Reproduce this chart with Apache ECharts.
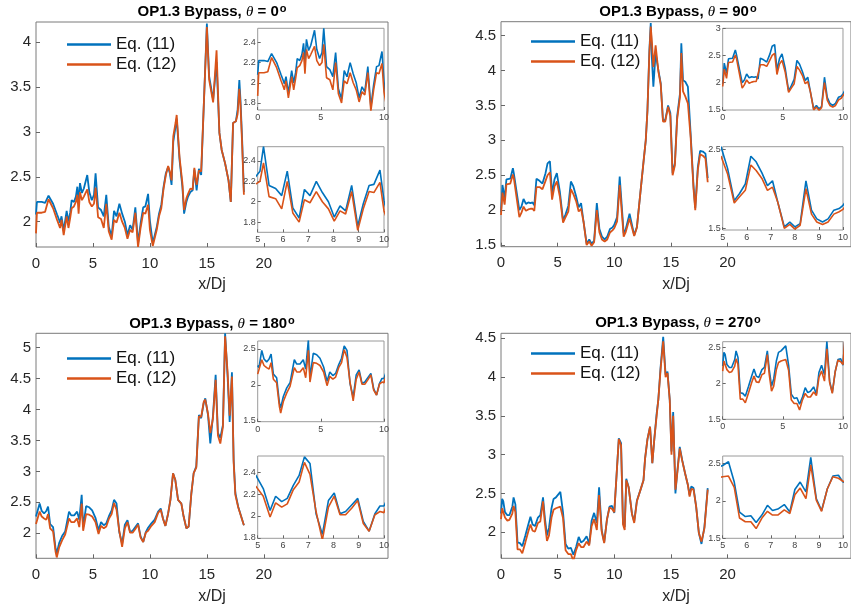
<!DOCTYPE html>
<html><head><meta charset="utf-8">
<script src="https://cdn.jsdelivr.net/npm/echarts@6/dist/echarts.min.js"></script>
<style>html,body{margin:0;padding:0;background:#fff}#c{width:851px;height:611px}</style>
</head><body><div id="c"></div>
<script>
// ---------- DATA ----------
const ANGLES = ['0', '90', '180', '270'];
const SERIES_NAMES = ['Eq. (11)', 'Eq. (12)'];

// theta = 0
const X1 = [0.00,0.08,0.50,0.80,1.10,1.50,1.85,2.00,2.11,2.24,2.43,2.69,2.85,3.00,3.13,3.33,3.50,3.63,3.74,3.86,4.03,4.20,4.50,4.68,4.90,5.09,5.23,5.45,5.71,5.95,6.17,6.39,6.64,6.85,7.07,7.32,7.56,7.80,8.03,8.26,8.48,8.72,8.96,9.18,9.41,9.60,9.84,10.00,10.25,10.60,10.80,11.00,11.20,11.40,11.60,11.75,11.90,12.05,12.25,12.35,12.60,12.85,13.00,13.20,13.35,13.55,13.75,13.90,14.10,14.30,14.50,14.65,15.00,15.20,15.55,15.85,16.10,16.30,16.60,16.90,17.10,17.30,17.55,17.70,17.85,17.95,18.10,18.25];
const B1 = [2.08,2.22,2.22,2.21,2.29,2.20,2.08,2.03,1.99,2.06,1.90,2.12,2.00,2.10,2.24,2.22,2.28,2.39,2.20,2.43,2.32,2.37,2.52,2.33,2.24,2.30,2.54,2.16,2.13,2.06,2.30,1.94,1.84,2.12,2.06,2.20,2.09,2.00,1.85,1.96,1.91,2.16,1.76,1.98,2.16,2.17,2.31,2.01,1.76,1.94,2.09,2.19,2.39,2.54,2.61,2.54,2.41,2.89,3.06,3.15,2.69,2.39,2.09,2.22,2.28,2.33,2.35,2.58,2.35,2.59,2.52,2.54,4.21,3.62,3.36,3.78,2.99,2.80,2.65,2.46,2.22,3.10,3.12,3.25,3.58,3.36,2.90,2.33];
const O1 = [1.87,2.10,2.10,2.11,2.25,2.15,2.02,1.97,1.93,2.02,1.85,2.06,1.93,2.04,2.15,2.17,2.22,2.30,2.09,2.33,2.24,2.28,2.36,2.22,2.17,2.20,2.38,2.05,2.03,1.93,2.20,1.89,1.80,2.02,1.99,2.10,2.00,1.93,1.81,1.91,1.88,2.10,1.72,1.93,2.10,2.09,2.19,1.91,1.73,1.91,2.06,2.15,2.37,2.52,2.62,2.56,2.46,2.95,3.10,3.19,2.72,2.43,2.13,2.26,2.31,2.37,2.36,2.60,2.41,2.57,2.56,2.55,4.17,3.58,3.33,3.91,2.99,2.80,2.65,2.46,2.22,3.10,3.12,3.20,3.48,3.30,2.85,2.30];

// theta = 90
const X2 = [0.00,0.13,0.32,0.48,0.82,1.05,1.14,1.62,1.80,1.99,2.20,2.41,2.60,2.78,2.94,3.13,3.40,3.66,3.93,4.11,4.32,4.51,4.72,4.93,5.20,5.48,5.70,5.94,6.17,6.39,6.63,6.86,7.07,7.29,7.56,7.79,8.00,8.22,8.46,8.69,8.91,9.15,9.38,9.62,9.84,10.00,10.25,10.48,10.83,11.00,11.35,11.76,12.00,12.30,12.60,12.78,12.93,13.10,13.22,13.33,13.45,13.65,13.90,14.10,14.30,14.50,14.75,14.95,15.15,15.35,15.55,15.80,15.92,16.07,16.27,16.50,16.74,17.00,17.15,17.38,17.58,17.82,18.05,18.25];
const B2 = [1.97,2.36,2.17,2.44,2.45,2.60,2.52,2.00,2.05,2.16,2.09,2.11,2.10,2.11,2.07,2.45,2.42,2.38,2.53,2.67,2.70,2.23,2.44,2.53,2.26,1.85,1.94,2.06,2.41,2.34,2.20,2.04,2.10,1.83,1.52,1.58,1.52,1.56,2.10,1.73,1.62,1.58,1.62,1.73,1.75,1.79,1.90,2.48,1.67,1.72,1.95,1.64,1.76,2.24,2.72,3.00,3.43,4.29,4.68,4.15,3.77,4.25,4.00,3.82,3.29,3.29,3.50,3.39,2.53,2.67,3.34,3.67,4.39,3.86,3.84,3.77,3.10,2.34,2.03,2.62,2.85,2.84,2.81,2.46];
const O2 = [1.93,2.25,2.08,2.37,2.38,2.51,2.45,1.90,1.96,2.05,1.99,2.01,2.02,2.02,1.99,2.33,2.33,2.30,2.42,2.50,2.54,2.15,2.34,2.41,2.19,1.82,1.90,1.98,2.30,2.23,2.13,1.98,2.02,1.83,1.50,1.55,1.49,1.54,2.00,1.68,1.58,1.55,1.58,1.68,1.71,1.74,1.84,2.36,1.62,1.68,1.88,1.63,1.75,2.24,2.72,3.00,3.43,4.25,4.63,4.40,4.05,4.36,3.98,3.80,3.27,3.27,3.48,3.35,2.50,2.64,3.30,3.62,4.25,3.70,3.63,3.53,3.05,2.30,2.00,2.58,2.80,2.78,2.74,2.40];

// theta = 180
const X3 = [0.00,0.10,0.32,0.50,0.71,0.90,1.06,1.24,1.50,1.72,1.82,2.03,2.30,2.56,2.90,3.09,3.35,3.61,3.80,4.01,4.14,4.40,4.67,4.93,5.22,5.49,5.71,5.95,6.17,6.41,6.64,6.85,7.07,7.31,7.56,7.80,8.03,8.26,8.48,8.72,8.96,9.18,9.41,9.64,9.84,10.00,10.13,10.42,10.72,10.95,11.15,11.36,11.60,11.80,12.03,12.23,12.47,12.76,12.96,13.20,13.40,13.64,13.84,14.07,14.30,14.50,14.72,14.86,15.10,15.30,15.53,15.77,15.97,16.18,16.41,16.60,16.82,17.00,17.20,17.35,17.50,17.75,18.25];
const B3 = [2.27,2.24,2.48,2.36,2.32,2.36,2.43,2.15,2.10,1.75,1.68,1.84,1.96,2.03,2.35,2.29,2.29,2.35,2.22,2.62,2.10,2.44,2.42,2.37,2.25,2.05,2.18,2.13,2.16,2.28,2.37,2.54,2.48,2.02,1.83,2.14,2.21,2.02,2.04,2.10,2.16,1.95,1.86,2.02,2.09,2.09,2.16,2.22,2.35,2.40,2.24,2.12,2.32,2.54,2.97,2.86,2.54,2.48,2.27,2.08,2.11,2.65,2.97,3.08,3.91,3.86,4.10,4.18,3.91,3.45,3.89,4.56,3.62,3.54,3.75,5.23,4.53,3.80,4.60,3.19,2.65,2.43,2.13];
const O3 = [2.15,2.14,2.35,2.27,2.24,2.22,2.31,2.08,2.03,1.70,1.61,1.77,1.89,1.98,2.24,2.18,2.18,2.24,2.10,2.48,2.04,2.31,2.30,2.27,2.18,1.99,2.12,2.08,2.11,2.24,2.31,2.49,2.38,2.04,1.78,2.08,2.18,2.01,2.01,2.07,2.14,1.93,1.86,2.01,2.04,2.03,2.12,2.18,2.33,2.38,2.23,2.12,2.32,2.54,2.97,2.86,2.54,2.48,2.27,2.08,2.11,2.65,2.97,3.06,3.89,3.88,4.12,4.16,3.93,3.62,3.85,4.48,3.58,3.45,3.72,5.18,4.60,3.90,4.53,3.15,2.62,2.42,2.13];

// theta = 270
const X4 = [0.00,0.10,0.20,0.35,0.56,0.74,1.00,1.11,1.27,1.46,1.67,1.88,2.15,2.41,2.60,2.79,3.00,3.26,3.47,3.71,3.87,4.06,4.24,4.46,4.64,4.85,5.00,5.24,5.48,5.70,5.94,6.17,6.39,6.63,6.86,7.07,7.29,7.56,7.79,8.00,8.22,8.46,8.66,8.89,9.11,9.35,9.58,9.81,10.00,10.15,10.40,10.60,10.77,10.92,11.06,11.27,11.56,11.76,12.00,12.30,12.58,12.72,12.93,13.16,13.36,13.53,13.74,13.89,14.09,14.32,14.53,14.70,14.90,15.05,15.20,15.40,15.55,15.78,16.00,16.25,16.50,16.65,16.80,17.00,17.23,17.47,17.70,17.96,18.25];
const B4 = [2.24,2.43,2.40,2.26,2.22,2.22,2.33,2.45,2.36,1.87,1.86,1.82,1.96,2.10,2.20,2.10,2.08,2.19,2.22,2.45,2.19,1.96,2.06,2.31,2.43,2.45,2.47,2.52,2.25,1.85,1.79,1.80,1.71,1.81,1.94,1.87,1.89,1.95,1.85,2.15,2.25,2.12,2.58,2.03,1.87,2.16,2.33,2.34,2.25,2.24,3.21,3.15,2.12,2.07,2.69,2.58,2.24,2.14,2.41,2.54,2.67,2.95,3.20,3.36,2.89,3.19,3.53,3.71,4.13,4.52,4.03,4.07,3.70,3.04,3.55,2.50,2.76,3.10,2.93,2.76,2.61,2.48,2.59,2.57,2.33,1.99,1.85,2.07,2.57];
const O4 = [2.17,2.31,2.30,2.19,2.15,2.16,2.24,2.34,2.26,1.78,1.78,1.73,1.87,2.01,2.10,2.02,2.01,2.12,2.14,2.40,2.12,1.89,1.96,2.19,2.29,2.31,2.32,2.33,2.18,1.77,1.72,1.72,1.63,1.77,1.86,1.81,1.81,1.88,1.83,2.08,2.17,2.03,2.48,2.01,1.86,2.16,2.32,2.30,2.26,2.24,3.20,3.12,2.10,2.03,2.67,2.58,2.24,2.12,2.40,2.54,2.67,2.95,3.20,3.36,2.89,3.19,3.50,3.71,4.10,4.46,4.00,4.05,3.70,3.00,3.50,2.55,2.74,3.08,2.92,2.76,2.61,2.46,2.56,2.55,2.33,1.99,1.88,2.05,2.55];

// axis ranges and tick labels
const MAIN_X_TICKS = [0, 5, 10, 15, 20];
const MAIN_Y_RANGE = [[1.718, 4.226], [1.476, 4.70], [1.596, 5.23], [1.665, 4.564]];
const MAIN_Y_TICKS = [[2, 2.5, 3, 3.5, 4], [1.5, 2, 2.5, 3, 3.5, 4, 4.5], [2, 2.5, 3, 3.5, 4, 4.5, 5], [2, 2.5, 3, 3.5, 4, 4.5]];
const INSET_A_X_TICKS = [0, 5, 10];
const INSET_B_X_TICKS = [5, 6, 7, 8, 9, 10];
const INSET_A_Y_RANGE = [[1.73, 2.54], [1.497, 3.0], [1.49, 2.61], [1.5, 2.578]];
const INSET_B_Y_RANGE = [[1.70, 2.54], [1.48, 2.53], [1.795, 2.548], [1.5, 2.597]];
const INSET_A_Y_TICKS = [[1.8, 2, 2.2, 2.4], [1.5, 2, 2.5, 3], [1.5, 2, 2.5], [1.5, 2, 2.5]];
const INSET_B_Y_TICKS = [[1.8, 2, 2.2, 2.4], [1.5, 2, 2.5], [1.8, 2, 2.2, 2.4], [1.5, 2, 2.5]];

// ---------- LAYOUT ----------
const XS = [X1, X2, X3, X4], BS = [B1, B2, B3, B4], OS = [O1, O2, O3, O4];
const MAIN_POS = [[36, 22], [501, 21.7], [36, 333.3], [501, 333.3]];
const INSET_A_POS = [[257.7, 28.3, 126.3, 81.7], [722.7, 28.3, 125.6, 81.7], [257.7, 341, 126.3, 80.7], [722.7, 341.7, 125.6, 77.6]];
const INSET_B_POS = [[257.7, 146.7, 126.3, 85.6], [722.7, 146.7, 125.6, 83.3], [257.7, 456, 126.3, 82.3], [722.7, 456, 125.6, 82.3]];
const TITLE_POS = [[212, 12], [678, 12], [212, 324], [678, 323]];
const LEGEND_POS = [[62, 31], [526, 28], [62, 345], [526, 340]];
const BLUE = '#0072BD', ORANGE = '#D95319';
const FONT = 'Liberation Sans, Arial, Helvetica, sans-serif';
const TXT = '#262626';

const grids = [], xAxes = [], yAxes = [], series = [];
function addGrid(g, inset) {
  grids.push(Object.assign({show: true, borderColor: inset ? '#9a9a9a' : '#7a7a7a', borderWidth: 1,
    backgroundColor: '#fff', containLabel: false, z: inset ? 5 : 0}, g));
  return grids.length - 1;
}
function axisCommon(ticks, inset, fs, margin) {
  return {
    axisLine: {show: false},
    splitLine: {show: false},
    axisTick: {show: true, inside: true, length: inset ? 3 : 4, customValues: ticks, lineStyle: {color: '#666'}},
    axisLabel: {customValues: ticks, fontSize: fs, color: inset ? '#444' : TXT, fontFamily: FONT,
      margin: margin, formatter: v => String(+v.toFixed(2))}
  };
}
for (let p = 0; p < 4; p++) {
  const [ml, mt] = MAIN_POS[p];
  const gi = addGrid({left: ml, top: mt, width: 352, height: 225}, false);
  xAxes.push(Object.assign({type: 'value', gridIndex: gi, min: 0, max: 30.9, name: 'x/Dj', nameLocation: 'middle', nameGap: 30,
    nameTextStyle: {fontSize: 16, color: TXT, fontFamily: FONT}, z: 0}, axisCommon(MAIN_X_TICKS, false, 15, 9)));
  yAxes.push(Object.assign({type: 'value', gridIndex: gi, min: MAIN_Y_RANGE[p][0], max: MAIN_Y_RANGE[p][1], z: 0},
    axisCommon(MAIN_Y_TICKS[p], false, 15, 5)));
  const ia = INSET_A_POS[p];
  const ga = addGrid({left: ia[0], top: ia[1], width: ia[2], height: ia[3]}, true);
  xAxes.push(Object.assign({type: 'value', gridIndex: ga, min: 0, max: 10, z: 6}, axisCommon(INSET_A_X_TICKS, true, 9, 3)));
  yAxes.push(Object.assign({type: 'value', gridIndex: ga, min: INSET_A_Y_RANGE[p][0], max: INSET_A_Y_RANGE[p][1], z: 6},
    axisCommon(INSET_A_Y_TICKS[p], true, 9, 2)));
  const ib = INSET_B_POS[p];
  const gb = addGrid({left: ib[0], top: ib[1], width: ib[2], height: ib[3]}, true);
  xAxes.push(Object.assign({type: 'value', gridIndex: gb, min: 5, max: 10, z: 6}, axisCommon(INSET_B_X_TICKS, true, 9, 3)));
  yAxes.push(Object.assign({type: 'value', gridIndex: gb, min: INSET_B_Y_RANGE[p][0], max: INSET_B_Y_RANGE[p][1], z: 6},
    axisCommon(INSET_B_Y_TICKS[p], true, 9, 2)));
  [gi, ga, gb].forEach((g, k) => {
    const w = k === 0 ? 1.8 : 1.6;
    const z = k === 0 ? 2 : 7;
    series.push({type: 'line', name: SERIES_NAMES[0], xAxisIndex: g, yAxisIndex: g, showSymbol: false, symbol: 'none',
      data: XS[p].map((x, i) => [x, BS[p][i]]), lineStyle: {color: BLUE, width: w}, itemStyle: {color: BLUE},
      z: z, animation: false, clip: true});
    series.push({type: 'line', name: SERIES_NAMES[1], xAxisIndex: g, yAxisIndex: g, showSymbol: false, symbol: 'none',
      data: XS[p].map((x, i) => [x, OS[p][i]]), lineStyle: {color: ORANGE, width: w}, itemStyle: {color: ORANGE},
      z: z + 0.1, animation: false, clip: true});
  });
}
const legends = LEGEND_POS.map(([l, t]) => ({
  left: l, top: t, orient: 'vertical', icon: 'rect', itemWidth: 44, itemHeight: 2.5, itemGap: 3,
  data: SERIES_NAMES, selectedMode: false,
  textStyle: {fontSize: 17, color: '#111', fontFamily: FONT, padding: [0, 0, 0, 0]}
}));
const graphic = TITLE_POS.map(([cx, cy], p) => ({
  type: 'text', x: cx, y: cy, z: 10,
  style: {
    text: '{b|OP1.3 Bypass, }{t|θ}{b| = ' + ANGLES[p] + '}{s|o}',
    align: 'center', verticalAlign: 'middle',
    rich: {
      b: {fontSize: 15, fontWeight: 'bold', fontFamily: FONT, fill: '#000', lineHeight: 18},
      t: {fontSize: 15, fontStyle: 'italic', fontFamily: 'Liberation Serif, serif', fill: '#000', lineHeight: 18},
      s: {fontSize: 11, fontWeight: 'bold', fontFamily: FONT, fill: '#000', lineHeight: 18, verticalAlign: 'top', padding: [0, 0, 6, 1]}
    }
  }
}));
const chart = echarts.init(document.getElementById('c'), null, {renderer: 'canvas'});
chart.setOption({animation: false, grid: grids, xAxis: xAxes, yAxis: yAxes, series: series, legend: legends, graphic: graphic});
</script></body></html>
